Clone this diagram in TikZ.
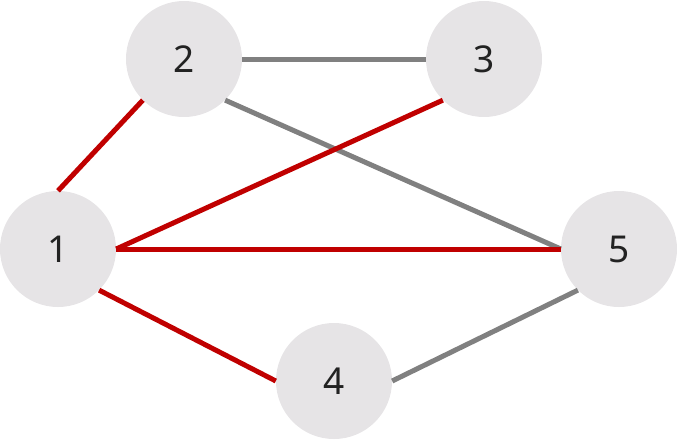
\documentclass[tikz,border=0pt]{standalone}
\usepackage{fontspec}
\setmainfont{Noto Sans}
\definecolor{nodefill}{HTML}{E6E4E6}
\definecolor{redline}{HTML}{C00000}
\definecolor{grayline}{HTML}{808080}
\definecolor{txt}{HTML}{222222}
\begin{document}
\begin{tikzpicture}[x=1pt,y=-1pt,
  vertex/.style={circle,fill=nodefill,minimum size=116pt,inner sep=0pt,text=txt,font=\fontsize{37}{40}\selectfont},
  redge/.style={draw=redline,line width=5pt},
  gedge/.style={draw=grayline,line width=5pt}]
\useasboundingbox (0,0) rectangle (678,440);
\node[vertex] (n1) at (58,249) {1};
\node[vertex] (n2) at (184,59) {2};
\node[vertex] (n3) at (484,59) {3};
\node[vertex] (n4) at (334,381) {4};
\node[vertex] (n5) at (619,249) {5};
\draw[gedge] (n2.east) -- (n3.west);
\draw[gedge] (n2.south east) -- (n5.west);
\draw[gedge] (n4.east) -- (n5.south west);
\draw[redge] (n1.north) -- (n2.south west);
\draw[redge] (n1.east) -- (n3.south west);
\draw[redge] (n1.east) -- (n5.west);
\draw[redge] (n1.south east) -- (n4.west);
\end{tikzpicture}
\end{document}
